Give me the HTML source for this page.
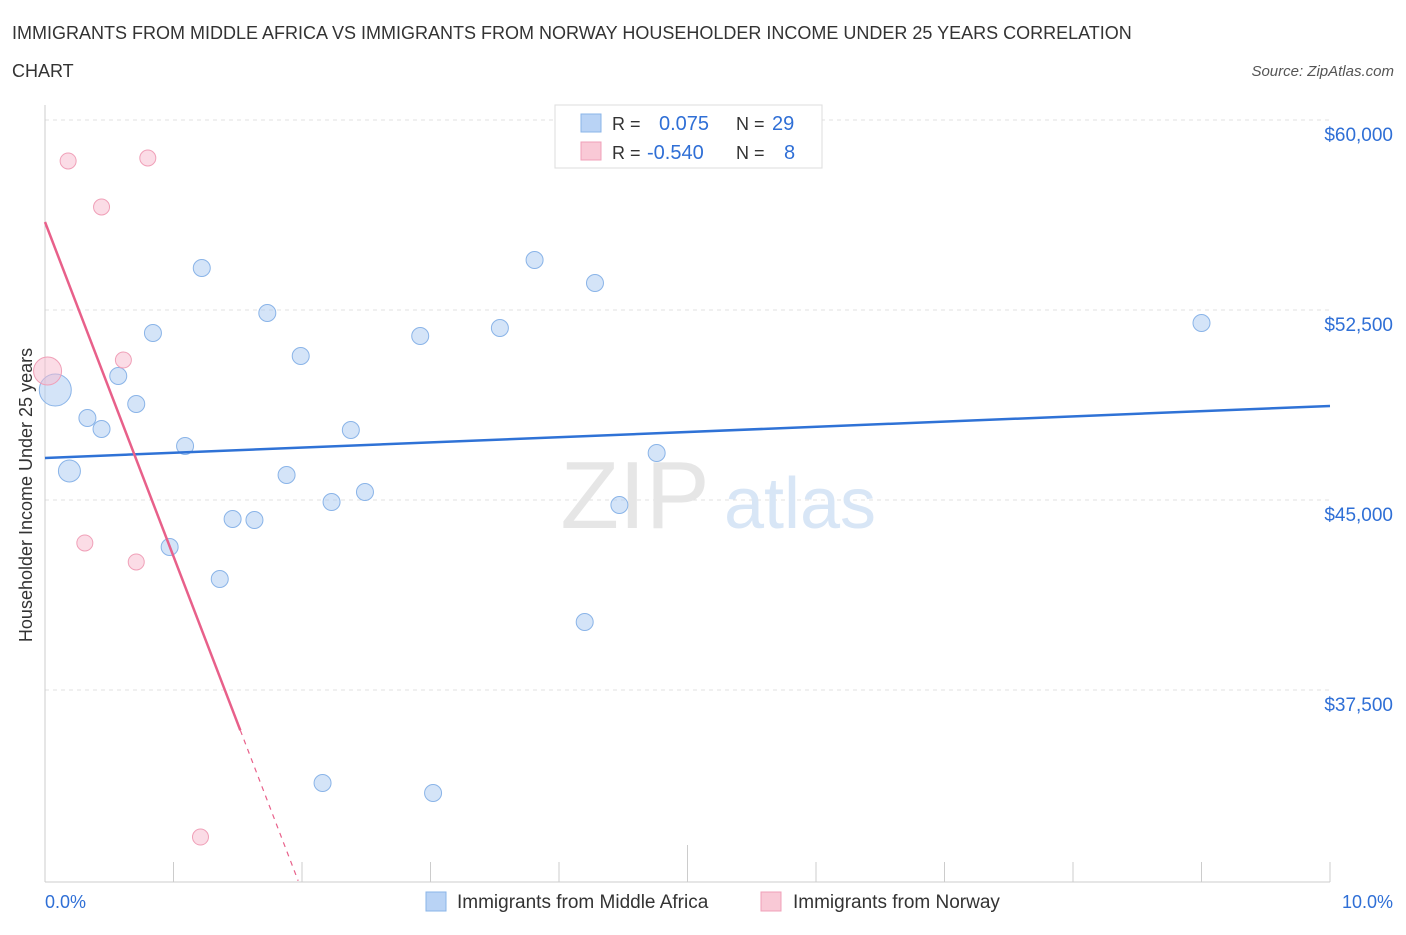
<!DOCTYPE html>
<html><head><meta charset="utf-8"><style>
body{margin:0;background:#fff;font-family:"Liberation Sans",sans-serif;}
svg text{font-family:"Liberation Sans",sans-serif;}
</style></head><body>
<svg id="c" width="1406" height="930">
<text x="12" y="39" font-size="18" fill="#333">IMMIGRANTS FROM MIDDLE AFRICA VS IMMIGRANTS FROM NORWAY HOUSEHOLDER INCOME UNDER 25 YEARS CORRELATION</text>
<text x="12" y="77" font-size="18" fill="#333">CHART</text>
<text x="1394" y="76" font-size="15" fill="#555" font-style="italic" text-anchor="end">Source: ZipAtlas.com</text>
<text x="32" y="495" font-size="18" fill="#333" text-anchor="middle" transform="rotate(-90 32 495)">Householder Income Under 25 years</text>
<g id="grid"></g>
<text x="635" y="528" font-size="96" fill="#e6e6e6" font-family="Liberation Serif" text-anchor="middle">ZIP</text>
<text x="800" y="528" font-size="72" fill="#d8e6f6" text-anchor="middle">atlas</text>
<g id="marks"></g>
<g>
<rect x="555" y="105" width="267" height="63" fill="#fff" stroke="#ddd"/>
<rect x="581" y="114" width="20" height="18" fill="#b9d3f5" stroke="#8ab4e8"/>
<rect x="581" y="142" width="20" height="18" fill="#f9c9d6" stroke="#f0a0b8"/>
<text x="612" y="130" font-size="18" fill="#333">R = </text>
<text x="659" y="130" font-size="20" fill="#2f6fd6">0.075</text>
<text x="736" y="130" font-size="18" fill="#333">N = </text>
<text x="772" y="130" font-size="20" fill="#2f6fd6">29</text>
<text x="612" y="159" font-size="18" fill="#333">R = </text>
<text x="647" y="159" font-size="20" fill="#2f6fd6">-0.540</text>
<text x="736" y="159" font-size="18" fill="#333">N = </text>
<text x="784" y="159" font-size="20" fill="#2f6fd6">8</text>
</g>
<g>
<rect x="426" y="892" width="20" height="19" fill="#b9d3f5" stroke="#8ab4e8"/>
<text x="457" y="908" font-size="19" fill="#333">Immigrants from Middle Africa</text>
<rect x="761" y="892" width="20" height="19" fill="#f9c9d6" stroke="#f0a0b8"/>
<text x="793" y="908" font-size="19" fill="#333">Immigrants from Norway</text>
</g>
<text x="45" y="908" font-size="18" fill="#2f6fd6">0.0%</text>
<text x="1393" y="908" font-size="18" fill="#2f6fd6" text-anchor="end">10.0%</text>
</svg>
<script>
const yTicks=[60000,52500,45000,37500];
const yTickLabels=["$60,000","$52,500","$45,000","$37,500"];
const blueX=[0.08,0.19,0.33,0.44,0.57,0.71,0.84,0.97,1.09,1.22,1.36,1.46,1.63,1.73,1.88,1.99,2.16,2.23,2.38,2.49,2.92,3.02,3.54,3.81,4.20,4.28,4.47,4.76,9.00];
const blueY=[49342,46145,48237,47803,49895,48789,51592,43145,47132,54158,41882,44250,44211,52382,45987,50684,33829,44921,47763,45316,51474,33434,51789,54474,40184,53566,44803,46855,51987];
const pinkX=[0.02,0.18,0.44,0.80,0.61,0.31,0.71,1.21];
const pinkY=[50092,58382,56566,58500,50526,43303,42553,31697];
const blueTrend=[46658,48711];
const pinkTrend=[55974,-13200];
const NS="http://www.w3.org/2000/svg";
const xs=v=>45+v*128.5;
const ys=v=>120+(60000-v)/7500*190;
const grid=document.getElementById('grid'),marks=document.getElementById('marks');
function mk(tag,attrs,parent){const e=document.createElementNS(NS,tag);for(const k in attrs)e.setAttribute(k,attrs[k]);parent.appendChild(e);return e;}
yTicks.forEach((t,i)=>{
 const l=mk('line',{x1:45,x2:1330,y1:ys(t),y2:ys(t),stroke:'#e0e0e0','stroke-dasharray':'4,4'},grid);
 
 
 const tx=mk('text',{x:1393,y:ys(t)+21,'font-size':19,fill:'#2f6fd6','text-anchor':'end'},grid);
 tx.textContent=yTickLabels[i];
 
 
});
const ax=mk('line',{x1:45,x2:1330,y1:882,y2:882,stroke:'#ccc'},grid);


const ay=mk('line',{x1:45,x2:45,y1:105,y2:882,stroke:'#ccc'},grid);


for(let i=0;i<=10;i++){
 const t=mk('line',{x1:xs(i),x2:xs(i),y1:i==5?845:862,y2:882,stroke:'#ccc'},grid);
 
 
}
const big={0:16,1:11};
blueX.forEach((x,i)=>{
 const c=mk('circle',{cx:xs(x),cy:ys(blueY[i]),r:big[i]||8.5,fill:'rgba(170,202,242,0.5)',stroke:'#8ab4e8','stroke-width':1},marks);
 
 
});
pinkX.forEach((x,i)=>{
 const c=mk('circle',{cx:xs(x),cy:ys(pinkY[i]),r:i==0?14:8,fill:'rgba(247,185,205,0.5)',stroke:'#f0a0b8','stroke-width':1},marks);
 
 
});
const bl=mk('line',{x1:xs(0),y1:ys(blueTrend[0]),x2:xs(10),y2:ys(blueTrend[1]),stroke:'#2f72d6','stroke-width':2.5},marks);


const pf=x=>pinkTrend[0]+pinkTrend[1]*x;
const pl=mk('line',{x1:xs(0),y1:ys(pf(0)),x2:xs(1.52),y2:ys(pf(1.52)),stroke:'#e8608a','stroke-width':2.5},marks);


const pd=mk('line',{x1:xs(1.52),y1:ys(pf(1.52)),x2:xs(1.97),y2:ys(pf(1.97)),stroke:'#e8608a','stroke-width':1.2,'stroke-dasharray':'5,5'},marks);


</script>
</body></html>
